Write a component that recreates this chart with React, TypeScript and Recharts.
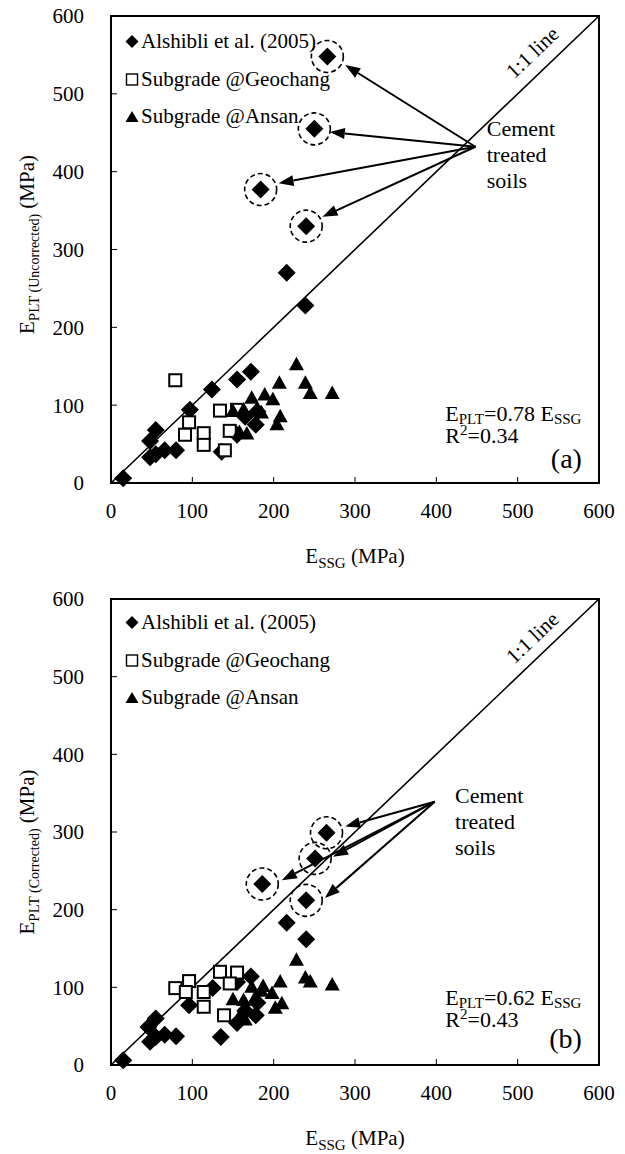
import React from 'react'
import { ScatterChart, Scatter, XAxis, YAxis, ReferenceLine, ReferenceArea, ReferenceDot, Legend } from 'recharts'

const FONT = 'Liberation Serif, DejaVu Serif, serif'

const axisTicks = [0, 100, 200, 300, 400, 500, 600]

// (a) uncorrected E_PLT vs E_SSG
const alshibliA = [
    { x: 15, y: 6 }, { x: 216, y: 270 }, { x: 239, y: 228 }, { x: 172, y: 143 }, { x: 155, y: 133 },
    { x: 124, y: 120 }, { x: 97, y: 94 }, { x: 55, y: 68 }, { x: 48, y: 54 }, { x: 48, y: 33 },
    { x: 55, y: 37 }, { x: 66, y: 42 }, { x: 80, y: 42 }, { x: 136, y: 40 }, { x: 155, y: 62 },
    { x: 178, y: 75 }, { x: 165, y: 85 }, { x: 180, y: 92 },
]
const cementA = [{ x: 266, y: 548 }, { x: 250, y: 455 }, { x: 184, y: 377 }, { x: 240, y: 330 }]
const geochangA = [
    { x: 79, y: 132 }, { x: 134, y: 93 }, { x: 96, y: 78 }, { x: 91, y: 62 }, { x: 114, y: 64 },
    { x: 114, y: 49 }, { x: 146, y: 67 }, { x: 140, y: 42 }, { x: 155, y: 94 },
]
const ansanA = [
    { x: 228, y: 152 }, { x: 207, y: 128 }, { x: 239, y: 128 }, { x: 245, y: 115 }, { x: 272, y: 115 },
    { x: 173, y: 109 }, { x: 189, y: 113 }, { x: 199, y: 107 }, { x: 150, y: 92 }, { x: 163, y: 94 },
    { x: 179, y: 94 }, { x: 185, y: 90 }, { x: 208, y: 85 }, { x: 204, y: 75 }, { x: 167, y: 63 },
    { x: 158, y: 65 },
]
const arrowFromA = { x: 448, y: 432 }
const arrowToA = [{ x: 288, y: 537 }, { x: 269, y: 451 }, { x: 206, y: 385 }, { x: 260, y: 342 }]

// (b) corrected E_PLT vs E_SSG
const alshibliB = [
    { x: 15, y: 6 }, { x: 216, y: 183 }, { x: 240, y: 162 }, { x: 172, y: 114 }, { x: 155, y: 107 },
    { x: 125, y: 99 }, { x: 96, y: 77 }, { x: 55, y: 60 }, { x: 46, y: 49 }, { x: 48, y: 30 },
    { x: 55, y: 36 }, { x: 66, y: 39 }, { x: 80, y: 37 }, { x: 135, y: 36 }, { x: 155, y: 54 },
    { x: 178, y: 64 }, { x: 165, y: 70 }, { x: 180, y: 80 },
]
const cementB = [{ x: 265, y: 299 }, { x: 251, y: 266 }, { x: 186, y: 233 }, { x: 240, y: 212 }]
const geochangB = [
    { x: 79, y: 99 }, { x: 96, y: 108 }, { x: 92, y: 94 }, { x: 114, y: 94 }, { x: 114, y: 75 },
    { x: 134, y: 120 }, { x: 155, y: 119 }, { x: 146, y: 105 }, { x: 139, y: 64 },
]
const ansanB = [
    { x: 228, y: 135 }, { x: 239, y: 112 }, { x: 245, y: 107 }, { x: 272, y: 103 }, { x: 208, y: 107 },
    { x: 187, y: 101 }, { x: 198, y: 92 }, { x: 173, y: 100 }, { x: 150, y: 84 }, { x: 163, y: 83 },
    { x: 178, y: 88 }, { x: 210, y: 79 }, { x: 202, y: 73 }, { x: 165, y: 58 }, { x: 158, y: 62 },
    { x: 185, y: 95 },
]
const arrowFromB = { x: 398, y: 339 }
const arrowToB = [{ x: 288, y: 307 }, { x: 273, y: 268 }, { x: 210, y: 238 }, { x: 263, y: 215 }]

const SERIES = ['Alshibli et al. (2005)', 'Subgrade @Geochang', 'Subgrade @Ansan']

const Diamond = ({ cx, cy }: any) => (
    <polygon points={`${cx},${cy - 9} ${cx + 9},${cy} ${cx},${cy + 9} ${cx - 9},${cy}`} fill="#000" />
)
const Square = ({ cx, cy }: any) => (
    <rect x={cx - 6} y={cy - 6} width={12} height={12} fill="#fff" stroke="#000" strokeWidth={2} />
)
const Triangle = ({ cx, cy }: any) => (
    <polygon points={`${cx},${cy - 8} ${cx + 7.5},${cy + 5.5} ${cx - 7.5},${cy + 5.5}`} fill="#000" />
)
const Ring = ({ cx, cy }: any) => (
    <circle cx={cx} cy={cy} r={16} fill="none" stroke="#000" strokeWidth={1.6} strokeDasharray="5 3" />
)

const ArrowShape = (p: any) => {
    const { x1, y1, x2, y2 } = p
    const a = Math.atan2(y2 - y1, x2 - x1)
    const len = 15
    const half = 5.5
    const bx = x2 - len * Math.cos(a)
    const by = y2 - len * Math.sin(a)
    const px = -Math.sin(a) * half
    const py = Math.cos(a) * half
    return (
        <g>
            <line x1={x1} y1={y1} x2={bx} y2={by} stroke="#000" strokeWidth={2} />
            <polygon points={`${x2},${y2} ${bx + px},${by + py} ${bx - px},${by - py}`} fill="#000" />
        </g>
    )
}

const legendMark = (name: string) => {
    if (name === SERIES[0]) return <polygon points="7,1 13.5,7.5 7,14 0.5,7.5" fill="#000" />
    if (name === SERIES[1]) return <rect x={1.5} y={2} width={11} height={11} fill="#fff" stroke="#000" strokeWidth={1.4} />
    return <polygon points="7,2 13.5,13 0.5,13" fill="#000" />
}

// keep the legend in series order and skip the helper ring series
const LegendList = ({ payload }: any) => {
    const names = SERIES.filter((s) => (payload || []).some((p: any) => p.value === s))
    return (
        <div style={{ fontFamily: FONT, fontSize: 21, color: '#000' }}>
            {names.map((name) => (
                <div key={name} style={{ height: 37.5, display: 'flex', alignItems: 'center', whiteSpace: 'nowrap' }}>
                    <svg width={15} height={15} style={{ marginRight: 1 }}>{legendMark(name)}</svg>
                    <span>{name}</span>
                </div>
            ))}
        </div>
    )
}

// text pinned to a data point through a zero-size ReferenceDot
const at = (render: (x: number, y: number) => React.ReactNode) => ({
    content: (p: any) => render(p.viewBox.x, p.viewBox.y),
})

const txt = { fontFamily: FONT, fill: '#000' }

interface PanelProps {
    tag: string
    yNote: string
    yShift: number
    top: number
    bottom: number
    alshibli: { x: number; y: number }[]
    cement: { x: number; y: number }[]
    geochang: { x: number; y: number }[]
    ansan: { x: number; y: number }[]
    arrowFrom: { x: number; y: number }
    arrowTo: { x: number; y: number }[]
    slope: string
    r2: string
    eqAt: { x: number; y: number }
    noteAt: { x: number; y: number }
    lineAt: { x: number; y: number }
    tagAt: { x: number; y: number }
    legendTop: number
}

function Panel(props: PanelProps) {
    const { tag, yNote, yShift, top, bottom, arrowFrom } = props
    return (
        <ScatterChart width={625} height={577} margin={{ top, right: 26, left: 31, bottom }}>
            <XAxis
                type="number"
                dataKey="x"
                domain={[0, 600]}
                ticks={axisTicks}
                interval={0}
                height={50}
                axisLine={{ stroke: '#000', strokeWidth: 2 }}
                tickLine={{ stroke: '#000', strokeWidth: 1 }}
                tickSize={-6}
                tickMargin={26}
                tick={{ ...txt, fontSize: 21 }}
                label={{
                    content: (p: any) => {
                        const { x, y, width } = p.viewBox
                        return (
                            <text x={x + width / 2} y={y + 80} textAnchor="middle" {...txt} fontSize={21}>
                                E<tspan fontSize={15} dy={5}>SSG</tspan>
                                <tspan dy={-5}> (MPa)</tspan>
                            </text>
                        )
                    },
                }}
            />
            <YAxis
                type="number"
                dataKey="y"
                domain={[0, 600]}
                ticks={axisTicks}
                interval={0}
                width={80}
                axisLine={{ stroke: '#000', strokeWidth: 2 }}
                tickLine={{ stroke: '#000', strokeWidth: 1 }}
                tickSize={-6}
                tickMargin={33}
                tick={{ ...txt, fontSize: 21 }}
                label={{
                    content: (p: any) => {
                        const { x, y, height } = p.viewBox
                        return (
                            <text
                                transform={`translate(${x + 3},${y + height / 2 + yShift}) rotate(-90)`}
                                textAnchor="middle"
                                {...txt}
                                fontSize={21}
                            >
                                E<tspan fontSize={15} dy={5}>PLT</tspan>
                                <tspan fontSize={14}> {yNote}</tspan>
                                <tspan dy={-5}> (MPa)</tspan>
                            </text>
                        )
                    },
                }}
            />
            <ReferenceArea x1={0} x2={600} y1={0} y2={600} fill="none" stroke="#000" strokeWidth={2} />
            <ReferenceLine segment={[{ x: 0, y: 0 }, { x: 600, y: 600 }]} stroke="#000" strokeWidth={1.6} />
            {props.arrowTo.map((t, i) => (
                <ReferenceLine key={i} segment={[arrowFrom, t]} shape={ArrowShape} />
            ))}
            <Legend
                layout="vertical"
                align="center"
                verticalAlign="middle"
                content={LegendList}
                wrapperStyle={{ left: 125, top: props.legendTop, width: 320 }}
            />
            <Scatter name={SERIES[0]} data={[...props.alshibli, ...props.cement]} shape={Diamond} isAnimationActive={false} />
            <Scatter name={SERIES[1]} data={props.geochang} shape={Square} isAnimationActive={false} />
            <Scatter name={SERIES[2]} data={props.ansan} shape={Triangle} isAnimationActive={false} />
            <Scatter name="cement" data={props.cement} shape={Ring} legendType="none" isAnimationActive={false} />

            <ReferenceDot
                x={props.lineAt.x}
                y={props.lineAt.y}
                r={0}
                fill="none"
                stroke="none"
                label={at((x, y) => (
                    <text transform={`translate(${x},${y}) rotate(-43.7)`} textAnchor="middle" dominantBaseline="central" {...txt} fontSize={21}>
                        1:1 line
                    </text>
                ))}
            />
            <ReferenceDot
                x={props.noteAt.x}
                y={props.noteAt.y}
                r={0}
                fill="none"
                stroke="none"
                label={at((x, y) => (
                    <text x={x} y={y} {...txt} fontSize={22}>
                        <tspan x={x}>Cement</tspan>
                        <tspan x={x} dy={26}>treated</tspan>
                        <tspan x={x} dy={26}>soils</tspan>
                    </text>
                ))}
            />
            <ReferenceDot
                x={props.eqAt.x}
                y={props.eqAt.y}
                r={0}
                fill="none"
                stroke="none"
                label={at((x, y) => (
                    <text x={x} y={y} {...txt} fontSize={22}>
                        E<tspan fontSize={15} dy={3}>PLT</tspan>
                        <tspan dy={-3}>={props.slope} E</tspan>
                        <tspan fontSize={15} dy={3}>SSG</tspan>
                    </text>
                ))}
            />
            <ReferenceDot
                x={props.eqAt.x}
                y={props.eqAt.y - 28}
                r={0}
                fill="none"
                stroke="none"
                label={at((x, y) => (
                    <text x={x} y={y} {...txt} fontSize={22}>
                        R<tspan fontSize={15} dy={-8}>2</tspan>
                        <tspan dy={8}>={props.r2}</tspan>
                    </text>
                ))}
            />
            <ReferenceDot
                x={props.tagAt.x}
                y={props.tagAt.y}
                r={0}
                fill="none"
                stroke="none"
                label={at((x, y) => (
                    <text x={x} y={y} textAnchor="end" {...txt} fontSize={28}>
                        ({tag})
                    </text>
                ))}
            />
        </ScatterChart>
    )
}

export default function App() {
    return (
        <div style={{ position: 'absolute', left: 0, top: 0, width: 625, height: 1154, background: '#fff' }}>
            <Panel
                tag="a"
                yNote="(Uncorrected)"
                yShift={-5}
                top={16}
                bottom={44}
                alshibli={alshibliA}
                cement={cementA}
                geochang={geochangA}
                ansan={ansanA}
                arrowFrom={arrowFromA}
                arrowTo={arrowToA}
                slope="0.78"
                r2="0.34"
                eqAt={{ x: 411, y: 80 }}
                noteAt={{ x: 462, y: 446 }}
                lineAt={{ x: 518, y: 553 }}
                tagAt={{ x: 579, y: 19 }}
                legendTop={23}
            />
            <Panel
                tag="b"
                yNote="(Corrected)"
                yShift={20}
                top={22}
                bottom={39}
                alshibli={alshibliB}
                cement={cementB}
                geochang={geochangB}
                ansan={ansanB}
                arrowFrom={arrowFromB}
                arrowTo={arrowToB}
                slope="0.62"
                r2="0.43"
                eqAt={{ x: 411, y: 77 }}
                noteAt={{ x: 423, y: 337 }}
                lineAt={{ x: 518, y: 550 }}
                tagAt={{ x: 579, y: 22 }}
                legendTop={27}
            />
        </div>
    )
}
